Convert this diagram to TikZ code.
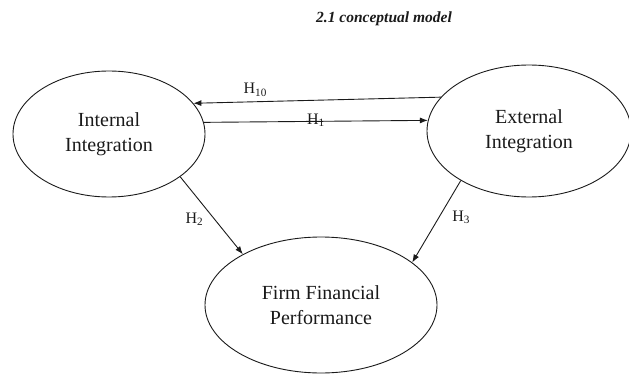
\documentclass[tikz,border=0pt]{standalone}
\usepackage{fontspec}
\setmainfont{Liberation Serif}
\usetikzlibrary{
  arrows.meta,
  shapes.geometric
}
\definecolor{ink}{HTML}{1A1A1A}
\tikzset{
  font=\rmfamily,
  construct/.style={
    ellipse,
    draw=ink,
    line width=0.9pt,
    align=center,
    text=ink,
    inner sep=0pt,
    font=\rmfamily\fontsize{20}{25}\selectfont
  },
  hypo/.style={-{Latex[length=8pt,width=6pt]}, draw=ink, line width=0.9pt},
  hyp label/.style={font=\rmfamily\fontsize{16}{18}\selectfont, text=ink, inner sep=1pt},
  title/.style={font=\rmfamily\bfseries\itshape\fontsize{15.5}{18}\selectfont, text=ink}
}

\begin{document}
\begin{tikzpicture}[x=1pt,y=-1pt]
  \useasboundingbox (0,0) rectangle (629,374);
  % Heading
  \node[title] (heading) at (384,19) {2.1 conceptual model};

  % Constructs
  \node[construct, minimum width=192pt, minimum height=126pt] (internal) at (109,134) {Internal\\Integration};
  \node[construct, minimum width=204pt, minimum height=132pt] (external) at (529,131) {External\\Integration};
  \node[construct, minimum width=232pt, minimum height=136pt] (firm) at (321,305) {Firm Financial\\Performance};

  % Hypothesised paths
  \draw[hypo] (external.159) -- node[hyp label, above=4pt, pos=0.75] {H\textsubscript{10}} (internal.20);
  \draw[hypo] (internal.7) -- node[hyp label, anchor=base, pos=0.5, yshift=-3pt] {H\textsubscript{1}} (external.174);
  \draw[hypo] (internal.-31) -- node[hyp label, left=10pt, pos=0.55] {H\textsubscript{2}} (firm.147);
  \draw[hypo] (external.216) -- node[hyp label, right=12pt, pos=0.45] {H\textsubscript{3}} (firm.25);
\end{tikzpicture}
\end{document}
